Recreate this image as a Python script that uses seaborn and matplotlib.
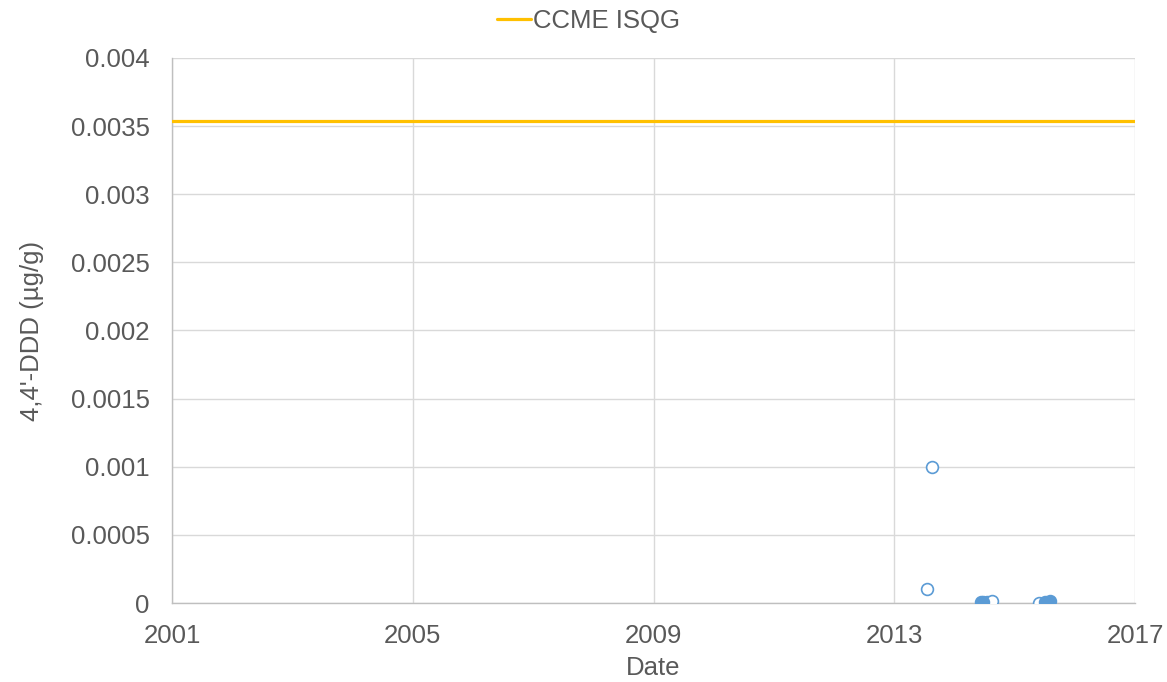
import matplotlib
matplotlib.use("Agg")
import matplotlib.pyplot as plt
import matplotlib.dates as mdates
import pandas as pd
import seaborn as sns

# Sample results (µg/g); open markers and filled markers are kept separately
open_dates = ["2013-07-16", "2013-08-19", "2014-07-15", "2014-08-18", "2015-05-30"]
open_values = [0.0001, 0.001, 0.000007, 0.000012, 0.000001]
filled_dates = ["2014-06-10", "2014-06-24", "2015-07-07", "2015-08-03"]
filled_values = [0.000005, 0.000005, 0.00001, 0.000018]

# Guideline level
guide_label = "CCME ISQG"
guide_dates = ["2001-01-01", "2017-01-01"]
guide_values = [0.00354, 0.00354]

year_ticks = [2001, 2005, 2009, 2013, 2017]
y_ticks = [0, 0.0005, 0.001, 0.0015, 0.002, 0.0025, 0.003, 0.0035, 0.004]
y_tick_labels = ["0", "0.0005", "0.001", "0.0015", "0.002", "0.0025", "0.003", "0.0035", "0.004"]

sns.set_theme(style="white")
plt.rcParams["font.family"] = ["Liberation Sans", "DejaVu Sans"]

text_color = "#595959"
blue = "#5B9BD5"
gold = "#FFC000"
fs = 18.5

df_open = pd.DataFrame({"date": pd.to_datetime(open_dates), "value": open_values})
df_filled = pd.DataFrame({"date": pd.to_datetime(filled_dates), "value": filled_values})
df_guide = pd.DataFrame({"date": pd.to_datetime(guide_dates), "value": guide_values})

fig = plt.figure(figsize=(11.67, 6.82), dpi=100)
ax = fig.add_axes([0.1474, 0.1158, 0.8252, 0.7992])

sns.lineplot(data=df_guide, x="date", y="value", ax=ax, color=gold, linewidth=2.3,
             label=guide_label, zorder=3)
sns.scatterplot(data=df_open, x="date", y="value", ax=ax, marker="o", s=72,
                facecolor="white", edgecolor=blue, linewidth=1.2, zorder=4)
sns.scatterplot(data=df_filled, x="date", y="value", ax=ax, marker="o", s=72,
                color=blue, edgecolor=blue, linewidth=1.2, zorder=5)

ax.set_xlim(pd.Timestamp(f"{year_ticks[0]}-01-01"), pd.Timestamp(f"{year_ticks[-1]}-01-01"))
ax.set_ylim(0, 0.004)
ax.set_xticks([pd.Timestamp(f"{y}-01-01") for y in year_ticks])
ax.xaxis.set_major_formatter(mdates.DateFormatter("%Y"))
ax.set_yticks(y_ticks)
ax.set_yticklabels(y_tick_labels)

ax.grid(True, color="#d9d9d9", linewidth=1.0)
ax.set_axisbelow(True)
for side in ["top", "right"]:
    ax.spines[side].set_visible(False)
for side in ["left", "bottom"]:
    ax.spines[side].set_color("#bfbfbf")
    ax.spines[side].set_linewidth(1.0)

ax.tick_params(axis="y", length=0, labelsize=fs, colors=text_color, pad=16)
ax.tick_params(axis="x", length=0, labelsize=fs, colors=text_color, pad=15)
ax.set_xlabel("Date", fontsize=fs, color=text_color, labelpad=6)
ax.set_ylabel("4,4'-DDD (µg/g)", fontsize=fs, color=text_color, labelpad=19)

handles, labels = ax.get_legend_handles_labels()
if ax.get_legend() is not None:
    ax.get_legend().remove()
leg = fig.legend(handles[:1], labels[:1], loc="center", bbox_to_anchor=(0.504, 0.969),
                 frameon=False, fontsize=fs, handlelength=1.35, handletextpad=0.05)
for t in leg.get_texts():
    t.set_color(text_color)

fig.savefig("out.png", dpi=100)
